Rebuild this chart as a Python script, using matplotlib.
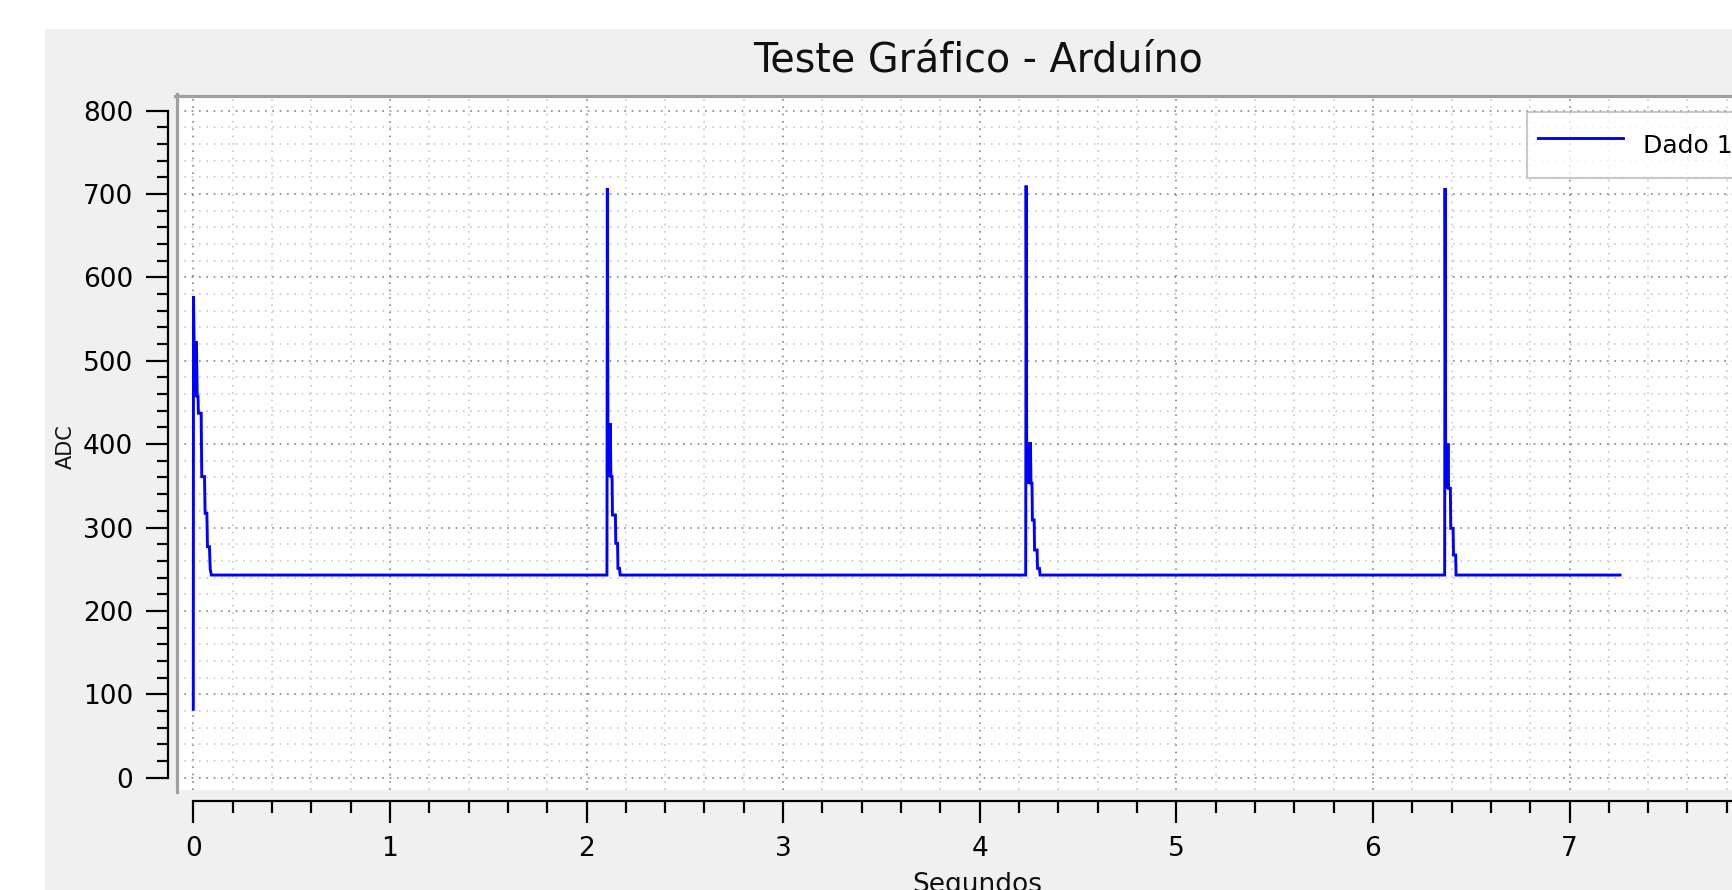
import matplotlib
matplotlib.use("Agg")
import matplotlib.pyplot as plt
from matplotlib.patches import Rectangle
from matplotlib.lines import Line2D
from matplotlib.ticker import MultipleLocator

plt.rcParams['font.family'] = ['DejaVu Sans']

# ---- data ----
title = "Teste Gráfico - Arduíno"
x_label = "Segundos"
y_label = "ADC"
series_name = "Dado 1"

segundos = [0.000, 0.001, 0.004, 0.007, 0.010, 0.013, 0.016, 0.020, 0.024, 0.026,
            0.040, 0.043, 0.057, 0.060, 0.069, 0.072, 0.082, 0.086, 0.092,
            2.104, 2.106, 2.109, 2.112, 2.115, 2.118, 2.121, 2.124, 2.130, 2.132,
            2.147, 2.149, 2.158, 2.160, 2.168, 2.171,
            4.234, 4.236, 4.239, 4.242, 4.245, 4.248, 4.251, 4.254, 4.258, 4.261,
            4.266, 4.268, 4.277, 4.279, 4.292, 4.294, 4.304, 4.307,
            6.365, 6.367, 6.370, 6.373, 6.376, 6.379, 6.382, 6.385, 6.394, 6.396,
            6.408, 6.410, 6.421, 6.423,
            7.257]
adc = [82, 577, 523, 457, 523, 457, 523, 457, 457, 437,
       437, 361, 361, 317, 317, 277, 277, 250, 243,
       243, 707, 425, 361, 425, 361, 425, 361, 361, 315,
       315, 281, 281, 251, 251, 243,
       243, 710, 402, 353, 402, 353, 402, 353, 402, 353,
       353, 309, 309, 273, 273, 251, 251, 243,
       243, 707, 401, 347, 401, 347, 401, 347, 347, 299,
       299, 267, 267, 243,
       243]

x_major = [0, 1, 2, 3, 4, 5, 6, 7, 8]
x_major_labels = ["0", "1", "2", "3", "4", "5", "6", "7", ""]   # "8" lies outside the visible area
y_major = [0, 100, 200, 300, 400, 500, 600, 700, 800]

# ---- layout (pixels) ----
W, H = 1732, 890
DPI = 100
fig = plt.figure(figsize=(W / DPI, H / DPI), dpi=DPI, facecolor='white')

def fx(px):
    return px / W

def fy(py):
    return 1 - py / H

PX = 72.0 / DPI  # points per pixel

# grey panel
fig.patches.append(Rectangle((fx(45), 0), 1 - fx(45), fy(29.3), transform=fig.transFigure,
                             facecolor='#f0f0f0', edgecolor='none', zorder=-10))

x0_px, xunit = 193.3, 196.6        # pixel of x=0, pixels per unit
y0_px, yunit = 777.7, 0.834        # pixel of y=0, pixels per unit
can_l, can_r, can_t, can_b = 177.0, 1781.0, 97.0, 790.2
xlim = ((can_l - x0_px) / xunit, (can_r - x0_px) / xunit)
ylim = ((y0_px - can_b) / yunit, (y0_px - can_t) / yunit)

# canvas
ax = fig.add_axes([fx(can_l), fy(can_b), fx(can_r) - fx(can_l), fy(can_t) - fy(can_b)])
ax.set_facecolor('white')
ax.set_xlim(*xlim)
ax.set_ylim(*ylim)
for s in ax.spines.values():
    s.set_visible(False)
ax.xaxis.set_major_locator(MultipleLocator(1))
ax.xaxis.set_minor_locator(MultipleLocator(0.2))
ax.yaxis.set_major_locator(MultipleLocator(100))
ax.yaxis.set_minor_locator(MultipleLocator(20))
ax.tick_params(which='both', length=0, labelbottom=False, labelleft=False)
ax.grid(which='major', color='#858585', linestyle=(0, (1, 3.4)), linewidth=1.2)
ax.grid(which='minor', color='#c8c8c8', linestyle=(0, (1, 3.4)), linewidth=1.2)
ax.set_axisbelow(True)

ax.plot(segundos, adc, color='#0000ff', linewidth=2.9 * PX, label=series_name,
        solid_joinstyle='miter')

leg = ax.legend(loc='upper left', bbox_to_anchor=(fx(1527), fy(112)), bbox_transform=fig.transFigure,
                frameon=True, fancybox=False, framealpha=0.75, edgecolor='#b8b8b8',
                borderaxespad=0, handlelength=3.4, handletextpad=0.78, borderpad=0.45,
                handleheight=2.3, fontsize=18)
leg.get_frame().set_linewidth(1.5)

# canvas frame (top and left)
fig.add_artist(Line2D([fx(175), 1], [fy(95.5), fy(95.5)], transform=fig.transFigure,
                      color='#a0a0a0', linewidth=3.2 * PX))
fig.add_artist(Line2D([fx(176.5), fx(176.5)], [fy(94), fy(792)], transform=fig.transFigure,
                      color='#a0a0a0', linewidth=3.2 * PX))

# left scale
axl = fig.add_axes([fx(168.4), fy(can_b), 1e-4, fy(can_t) - fy(can_b)])
axl.set_ylim(*ylim)
axl.set_facecolor('none')
for k in ('top', 'right', 'bottom'):
    axl.spines[k].set_visible(False)
axl.spines['left'].set_bounds(0, 800)
axl.spines['left'].set_linewidth(2.2 * PX)
axl.set_yticks(y_major)
axl.set_yticklabels([str(v) for v in y_major])
axl.yaxis.set_minor_locator(MultipleLocator(20))
axl.set_xticks([])
axl.tick_params(axis='y', which='major', direction='out', length=22 * PX, width=2.2 * PX,
                pad=13 * PX, labelsize=19, colors='#000000')
axl.tick_params(axis='y', which='minor', direction='out', length=11 * PX, width=2.2 * PX,
                colors='#000000')

# bottom scale
axb = fig.add_axes([fx(can_l), fy(801), fx(can_r) - fx(can_l), fy(795) - fy(801)])
axb.set_xlim(*xlim)
axb.set_facecolor('none')
for k in ('top', 'right', 'left'):
    axb.spines[k].set_visible(False)
axb.spines['bottom'].set_bounds(0, xlim[1])
axb.spines['bottom'].set_linewidth(2.2 * PX)
axb.set_xticks(x_major)
axb.set_xticklabels(x_major_labels)
axb.xaxis.set_minor_locator(MultipleLocator(0.2))
axb.set_yticks([])
axb.tick_params(axis='x', which='major', direction='out', length=22 * PX, width=2.2 * PX,
                pad=13 * PX, labelsize=19, colors='#000000')
axb.tick_params(axis='x', which='minor', direction='out', length=12 * PX, width=2.2 * PX,
                colors='#000000')

# texts
fig.text(fx(977.6), fy(71.7), title, ha='center', va='baseline', fontsize=28.5, color='#111111')
fig.text(fx(66), fy(447), y_label, rotation=90, ha='center', va='center', fontsize=15, color='#111111')
fig.text(fx(977), fy(872), x_label, ha='center', va='top', fontsize=19, color='#111111')

fig.savefig('out.png', dpi=DPI, facecolor='white')
